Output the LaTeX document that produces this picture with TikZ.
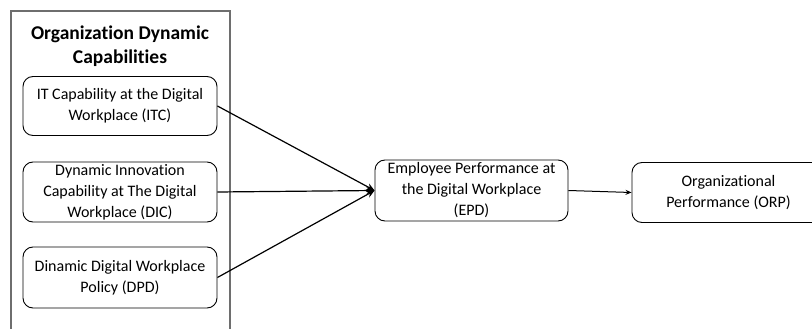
\documentclass[tikz,border=0pt]{standalone}
\usepackage{fontspec}
\setmainfont{Carlito}[Ligatures={NoCommon,NoContextual}]
\usetikzlibrary{arrows.meta}

\definecolor{frame}{RGB}{110,110,110}

\begin{document}
\begin{tikzpicture}[x=1pt, y=-1pt, font=\fontsize{16}{21}\selectfont,
  box/.style={draw, rounded corners=10pt, line width=0.9pt, align=center,
    minimum width=194pt, minimum height=59pt, inner sep=0pt},
  link/.style={line width=1.2pt, -{Stealth[length=8pt, width=7pt]}}]
  \useasboundingbox (0,0) rectangle (812,329);
  % left group frame, runs off the bottom edge
  \draw[frame, line width=1.3pt] (11,11) rectangle (230,345);
  \node[font=\fontsize{19.5}{24}\selectfont\bfseries, align=center] (title) at (120,46)
    {Organization Dynamic\\Capabilities};
  \node[box] (itc) at (120,106) {IT Capability at the Digital\\Workplace (ITC)};
  \node[box, minimum height=60pt] (dic) at (120,192) {Dynamic Innovation\\Capability at The Digital\\Workplace (DIC)};
  \node[box, minimum height=61pt] (dpd) at (120,277.5) {Dinamic Digital Workplace\\Policy (DPD)};
  \node[box, minimum height=61pt, minimum width=193pt] (epd) at (471.5,190.5)
    {Employee Performance at\\the Digital Workplace\\(EPD)};
  \node[box, minimum height=60pt, minimum width=193pt] (orp) at (728.5,192.5)
    {Organizational\\Performance (ORP)};
  \draw[link] (itc.east) -- (epd.west);
  \draw[link] (dic.east) -- (epd.west);
  \draw[link] (dpd.east) -- (epd.west);
  \draw[line width=1pt, -{Stealth[length=6pt, width=5pt]}] (epd.east) -- (orp.west);
\end{tikzpicture}
\end{document}
